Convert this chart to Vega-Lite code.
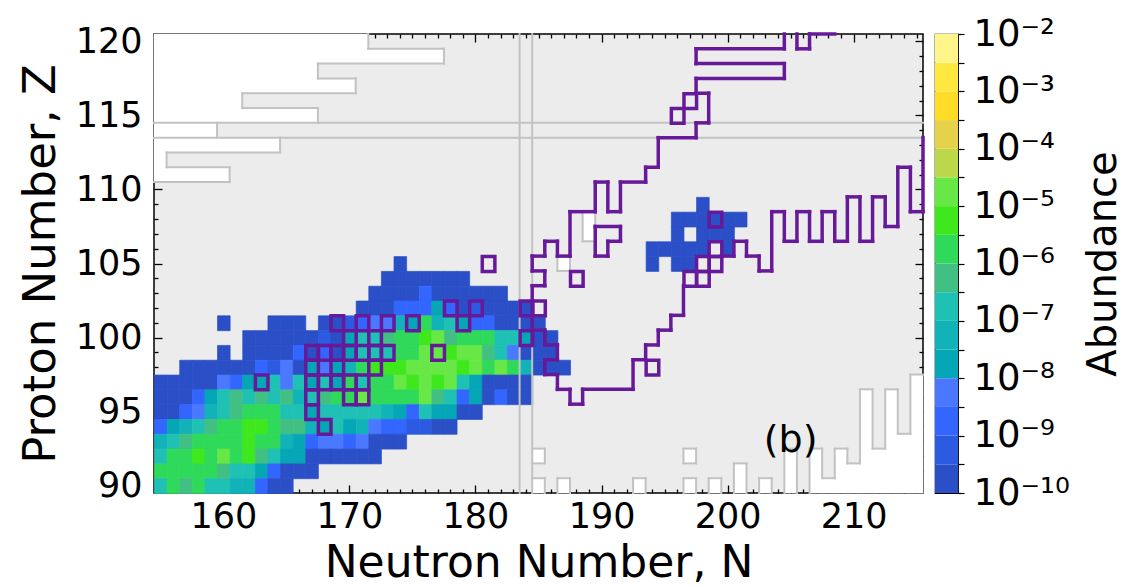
{
  "$schema": "https://vega.github.io/schema/vega-lite/v6.json",
  "background": "white",
  "padding": {"left": 17, "top": 14, "right": 4, "bottom": 0},
  "bounds": "flush",
  "spacing": 12,
  "config": {
    "font": "DejaVu Sans",
    "axis": {
      "grid": false, "domain": false, "labelFont": "DejaVu Sans", "titleFont": "DejaVu Sans",
      "labelColor": "black", "titleColor": "black", "tickColor": "black", "titleFontWeight": "normal",
      "labelFlush": false, "labelOverlap": false
    }
  },
  "datasets": {
    "cells": [
      {"N":174,"Z":105,"a":1.8e-10},
      {"N":173,"Z":104,"a":1.8e-10},{"N":174,"Z":104,"a":1.8e-10},{"N":175,"Z":104,"a":1.8e-10},{"N":176,"Z":104,"a":1.8e-10},{"N":177,"Z":104,"a":1.8e-10},{"N":178,"Z":104,"a":1.8e-10},{"N":179,"Z":104,"a":1.8e-10},
      {"N":172,"Z":103,"a":1.8e-10},{"N":173,"Z":103,"a":1.8e-10},{"N":174,"Z":103,"a":1.8e-10},{"N":175,"Z":103,"a":1.8e-10},{"N":176,"Z":103,"a":1.8e-9},{"N":177,"Z":103,"a":1.8e-10},{"N":178,"Z":103,"a":1.8e-10},{"N":179,"Z":103,"a":1.8e-10},{"N":180,"Z":103,"a":1.8e-10},{"N":181,"Z":103,"a":1.8e-10},{"N":182,"Z":103,"a":1.8e-10},
      {"N":171,"Z":102,"a":1.8e-10},{"N":172,"Z":102,"a":1.8e-10},{"N":173,"Z":102,"a":1.8e-10},{"N":174,"Z":102,"a":1.8e-9},{"N":175,"Z":102,"a":1.8e-9},{"N":176,"Z":102,"a":1.8e-9},{"N":177,"Z":102,"a":1.8e-8},{"N":178,"Z":102,"a":1.8e-9},{"N":179,"Z":102,"a":1.8e-10},{"N":180,"Z":102,"a":5.6e-10},{"N":181,"Z":102,"a":1.8e-10},{"N":182,"Z":102,"a":1.8e-10},{"N":183,"Z":102,"a":1.8e-10},{"N":184,"Z":102,"a":1.8e-10},
      {"N":160,"Z":101,"a":1.8e-10},{"N":164,"Z":101,"a":1.8e-10},{"N":165,"Z":101,"a":1.8e-10},{"N":166,"Z":101,"a":1.8e-10},{"N":168,"Z":101,"a":1.8e-10},{"N":169,"Z":101,"a":1.8e-10},{"N":170,"Z":101,"a":5.6e-10},{"N":171,"Z":101,"a":1.8e-9},{"N":172,"Z":101,"a":5.6e-9},{"N":173,"Z":101,"a":5.6e-9},{"N":174,"Z":101,"a":5.6e-8},{"N":175,"Z":101,"a":1.8e-8},{"N":176,"Z":101,"a":1.8e-6},{"N":177,"Z":101,"a":5.6e-8},{"N":178,"Z":101,"a":1.8e-7},{"N":179,"Z":101,"a":1.8e-8},{"N":180,"Z":101,"a":1.8e-9},{"N":181,"Z":101,"a":1.8e-9},{"N":182,"Z":101,"a":1.8e-10},{"N":183,"Z":101,"a":1.8e-10},{"N":184,"Z":101,"a":1.8e-10},{"N":185,"Z":101,"a":1.8e-10},
      {"N":162,"Z":100,"a":1.8e-10},{"N":163,"Z":100,"a":1.8e-10},{"N":164,"Z":100,"a":1.8e-10},{"N":165,"Z":100,"a":1.8e-10},{"N":166,"Z":100,"a":1.8e-10},{"N":167,"Z":100,"a":1.8e-10},{"N":168,"Z":100,"a":5.6e-10},{"N":169,"Z":100,"a":1.8e-10},{"N":170,"Z":100,"a":1.8e-8},{"N":171,"Z":100,"a":1.8e-7},{"N":172,"Z":100,"a":1.8e-7},{"N":173,"Z":100,"a":5.6e-7},{"N":174,"Z":100,"a":1.8e-6},{"N":175,"Z":100,"a":1.8e-6},{"N":176,"Z":100,"a":5.6e-6},{"N":177,"Z":100,"a":1.8e-5},{"N":178,"Z":100,"a":5.6e-7},{"N":179,"Z":100,"a":1.8e-6},{"N":180,"Z":100,"a":1.8e-6},{"N":181,"Z":100,"a":1.8e-6},{"N":182,"Z":100,"a":1.8e-7},{"N":183,"Z":100,"a":1.8e-7},{"N":184,"Z":100,"a":1.8e-8},{"N":185,"Z":100,"a":1.8e-10},{"N":186,"Z":100,"a":1.8e-10},
      {"N":160,"Z":99,"a":1.8e-10},{"N":162,"Z":99,"a":1.8e-10},{"N":163,"Z":99,"a":1.8e-10},{"N":164,"Z":99,"a":1.8e-10},{"N":165,"Z":99,"a":1.8e-10},{"N":166,"Z":99,"a":1.8e-9},{"N":167,"Z":99,"a":1.8e-10},{"N":168,"Z":99,"a":1.8e-9},{"N":169,"Z":99,"a":1.8e-10},{"N":170,"Z":99,"a":1.8e-8},{"N":171,"Z":99,"a":1.8e-7},{"N":172,"Z":99,"a":1.8e-7},{"N":173,"Z":99,"a":1.8e-7},{"N":174,"Z":99,"a":1.8e-6},{"N":175,"Z":99,"a":1.8e-6},{"N":176,"Z":99,"a":1.8e-5},{"N":177,"Z":99,"a":1.8e-5},{"N":178,"Z":99,"a":5.6e-6},{"N":179,"Z":99,"a":1.8e-5},{"N":180,"Z":99,"a":1.8e-5},{"N":181,"Z":99,"a":5.6e-7},{"N":182,"Z":99,"a":1.8e-7},{"N":183,"Z":99,"a":5.6e-9},{"N":184,"Z":99,"a":1.8e-10},{"N":185,"Z":99,"a":1.8e-10},{"N":186,"Z":99,"a":1.8e-10},
      {"N":157,"Z":98,"a":1.8e-10},{"N":158,"Z":98,"a":1.8e-10},{"N":159,"Z":98,"a":1.8e-10},{"N":160,"Z":98,"a":1.8e-10},{"N":161,"Z":98,"a":1.8e-10},{"N":162,"Z":98,"a":1.8e-10},{"N":163,"Z":98,"a":1.8e-9},{"N":164,"Z":98,"a":5.6e-10},{"N":165,"Z":98,"a":5.6e-9},{"N":166,"Z":98,"a":1.8e-10},{"N":167,"Z":98,"a":1.8e-8},{"N":168,"Z":98,"a":5.6e-9},{"N":169,"Z":98,"a":1.8e-8},{"N":170,"Z":98,"a":5.6e-8},{"N":171,"Z":98,"a":1.8e-6},{"N":172,"Z":98,"a":5.6e-6},{"N":173,"Z":98,"a":5.6e-6},{"N":174,"Z":98,"a":5.6e-6},{"N":175,"Z":98,"a":1.8e-5},{"N":176,"Z":98,"a":1.8e-5},{"N":177,"Z":98,"a":1.8e-5},{"N":178,"Z":98,"a":1.8e-5},{"N":179,"Z":98,"a":5.6e-6},{"N":180,"Z":98,"a":1.8e-5},{"N":181,"Z":98,"a":1.8e-6},{"N":182,"Z":98,"a":1.8e-5},{"N":183,"Z":98,"a":1.8e-6},{"N":184,"Z":98,"a":5.6e-8},{"N":185,"Z":98,"a":1.8e-10},{"N":186,"Z":98,"a":1.8e-10},{"N":187,"Z":98,"a":1.8e-10},
      {"N":155,"Z":97,"a":1.8e-10},{"N":156,"Z":97,"a":1.8e-10},{"N":157,"Z":97,"a":1.8e-10},{"N":158,"Z":97,"a":1.8e-10},{"N":159,"Z":97,"a":1.8e-10},{"N":160,"Z":97,"a":5.6e-9},{"N":161,"Z":97,"a":1.8e-9},{"N":162,"Z":97,"a":1.8e-8},{"N":163,"Z":97,"a":1.8e-8},{"N":164,"Z":97,"a":1.8e-7},{"N":165,"Z":97,"a":5.6e-9},{"N":166,"Z":97,"a":1.8e-7},{"N":167,"Z":97,"a":1.8e-8},{"N":168,"Z":97,"a":1.8e-7},{"N":169,"Z":97,"a":1.8e-8},{"N":170,"Z":97,"a":1.8e-6},{"N":171,"Z":97,"a":1.8e-7},{"N":172,"Z":97,"a":1.8e-6},{"N":173,"Z":97,"a":1.8e-6},{"N":174,"Z":97,"a":1.8e-5},{"N":175,"Z":97,"a":5.6e-6},{"N":176,"Z":97,"a":1.8e-5},{"N":177,"Z":97,"a":5.6e-6},{"N":178,"Z":97,"a":1.8e-5},{"N":179,"Z":97,"a":1.8e-7},{"N":180,"Z":97,"a":1.8e-8},{"N":181,"Z":97,"a":1.8e-10},{"N":182,"Z":97,"a":1.8e-10},{"N":183,"Z":97,"a":1.8e-10},{"N":184,"Z":97,"a":1.8e-10},
      {"N":155,"Z":96,"a":1.8e-10},{"N":156,"Z":96,"a":1.8e-10},{"N":157,"Z":96,"a":1.8e-10},{"N":158,"Z":96,"a":1.8e-9},{"N":159,"Z":96,"a":1.8e-8},{"N":160,"Z":96,"a":1.8e-7},{"N":161,"Z":96,"a":5.6e-7},{"N":162,"Z":96,"a":1.8e-7},{"N":163,"Z":96,"a":5.6e-7},{"N":164,"Z":96,"a":1.8e-7},{"N":165,"Z":96,"a":5.6e-7},{"N":166,"Z":96,"a":5.6e-8},{"N":167,"Z":96,"a":1.8e-7},{"N":168,"Z":96,"a":5.6e-7},{"N":169,"Z":96,"a":1.8e-6},{"N":170,"Z":96,"a":1.8e-6},{"N":171,"Z":96,"a":1.8e-5},{"N":172,"Z":96,"a":1.8e-6},{"N":173,"Z":96,"a":1.8e-6},{"N":174,"Z":96,"a":1.8e-6},{"N":175,"Z":96,"a":1.8e-6},{"N":176,"Z":96,"a":1.8e-5},{"N":177,"Z":96,"a":5.6e-7},{"N":178,"Z":96,"a":1.8e-7},{"N":179,"Z":96,"a":1.8e-9},{"N":180,"Z":96,"a":1.8e-8},{"N":181,"Z":96,"a":1.8e-10},{"N":182,"Z":96,"a":1.8e-9},{"N":183,"Z":96,"a":1.8e-10},{"N":184,"Z":96,"a":1.8e-10},
      {"N":155,"Z":95,"a":1.8e-10},{"N":156,"Z":95,"a":1.8e-10},{"N":157,"Z":95,"a":1.8e-9},{"N":158,"Z":95,"a":5.6e-9},{"N":159,"Z":95,"a":5.6e-8},{"N":160,"Z":95,"a":1.8e-7},{"N":161,"Z":95,"a":5.6e-7},{"N":162,"Z":95,"a":1.8e-6},{"N":163,"Z":95,"a":1.8e-6},{"N":164,"Z":95,"a":1.8e-6},{"N":165,"Z":95,"a":1.8e-7},{"N":166,"Z":95,"a":1.8e-7},{"N":167,"Z":95,"a":1.8e-8},{"N":168,"Z":95,"a":1.8e-7},{"N":169,"Z":95,"a":1.8e-7},{"N":170,"Z":95,"a":1.8e-7},{"N":171,"Z":95,"a":1.8e-7},{"N":172,"Z":95,"a":1.8e-7},{"N":173,"Z":95,"a":5.6e-8},{"N":174,"Z":95,"a":1.8e-8},{"N":175,"Z":95,"a":1.8e-9},{"N":176,"Z":95,"a":1.8e-7},{"N":177,"Z":95,"a":1.8e-8},{"N":178,"Z":95,"a":1.8e-8},{"N":179,"Z":95,"a":1.8e-10},{"N":180,"Z":95,"a":1.8e-10},
      {"N":155,"Z":94,"a":1.8e-9},{"N":156,"Z":94,"a":1.8e-8},{"N":157,"Z":94,"a":5.6e-8},{"N":158,"Z":94,"a":1.8e-7},{"N":159,"Z":94,"a":5.6e-7},{"N":160,"Z":94,"a":1.8e-6},{"N":161,"Z":94,"a":1.8e-6},{"N":162,"Z":94,"a":5.6e-6},{"N":163,"Z":94,"a":5.6e-6},{"N":164,"Z":94,"a":1.8e-6},{"N":165,"Z":94,"a":5.6e-7},{"N":166,"Z":94,"a":5.6e-7},{"N":167,"Z":94,"a":5.6e-8},{"N":168,"Z":94,"a":1.8e-8},{"N":169,"Z":94,"a":1.8e-7},{"N":170,"Z":94,"a":1.8e-8},{"N":171,"Z":94,"a":5.6e-8},{"N":172,"Z":94,"a":5.6e-9},{"N":173,"Z":94,"a":1.8e-9},{"N":174,"Z":94,"a":1.8e-9},{"N":175,"Z":94,"a":5.6e-10},{"N":176,"Z":94,"a":5.6e-10},{"N":177,"Z":94,"a":1.8e-10},{"N":178,"Z":94,"a":1.8e-10},
      {"N":155,"Z":93,"a":5.6e-8},{"N":156,"Z":93,"a":1.8e-7},{"N":157,"Z":93,"a":5.6e-7},{"N":158,"Z":93,"a":1.8e-6},{"N":159,"Z":93,"a":1.8e-6},{"N":160,"Z":93,"a":1.8e-6},{"N":161,"Z":93,"a":1.8e-6},{"N":162,"Z":93,"a":5.6e-6},{"N":163,"Z":93,"a":1.8e-6},{"N":164,"Z":93,"a":1.8e-6},{"N":165,"Z":93,"a":5.6e-8},{"N":166,"Z":93,"a":1.8e-8},{"N":167,"Z":93,"a":1.8e-9},{"N":168,"Z":93,"a":5.6e-9},{"N":169,"Z":93,"a":5.6e-9},{"N":170,"Z":93,"a":1.8e-9},{"N":171,"Z":93,"a":5.6e-9},{"N":172,"Z":93,"a":1.8e-10},{"N":173,"Z":93,"a":1.8e-10},{"N":174,"Z":93,"a":1.8e-10},
      {"N":155,"Z":92,"a":1.8e-7},{"N":156,"Z":92,"a":1.8e-6},{"N":157,"Z":92,"a":1.8e-6},{"N":158,"Z":92,"a":5.6e-6},{"N":159,"Z":92,"a":1.8e-6},{"N":160,"Z":92,"a":1.8e-5},{"N":161,"Z":92,"a":1.8e-6},{"N":162,"Z":92,"a":5.6e-6},{"N":163,"Z":92,"a":5.6e-7},{"N":164,"Z":92,"a":1.8e-7},{"N":165,"Z":92,"a":1.8e-8},{"N":166,"Z":92,"a":1.8e-8},{"N":167,"Z":92,"a":1.8e-10},{"N":168,"Z":92,"a":1.8e-10},{"N":169,"Z":92,"a":1.8e-10},{"N":170,"Z":92,"a":1.8e-10},{"N":171,"Z":92,"a":1.8e-10},{"N":172,"Z":92,"a":1.8e-10},
      {"N":155,"Z":91,"a":1.8e-6},{"N":156,"Z":91,"a":1.8e-6},{"N":157,"Z":91,"a":1.8e-6},{"N":158,"Z":91,"a":1.8e-6},{"N":159,"Z":91,"a":1.8e-6},{"N":160,"Z":91,"a":5.6e-7},{"N":161,"Z":91,"a":1.8e-7},{"N":162,"Z":91,"a":1.8e-7},{"N":163,"Z":91,"a":1.8e-8},{"N":164,"Z":91,"a":1.8e-9},{"N":165,"Z":91,"a":1.8e-10},{"N":166,"Z":91,"a":1.8e-10},{"N":167,"Z":91,"a":1.8e-10},
      {"N":155,"Z":90,"a":1.8e-7},{"N":156,"Z":90,"a":1.8e-6},{"N":157,"Z":90,"a":5.6e-7},{"N":158,"Z":90,"a":1.8e-6},{"N":159,"Z":90,"a":1.8e-7},{"N":160,"Z":90,"a":1.8e-7},{"N":161,"Z":90,"a":5.6e-8},{"N":162,"Z":90,"a":5.6e-8},{"N":163,"Z":90,"a":1.8e-9},{"N":164,"Z":90,"a":1.8e-10},{"N":165,"Z":90,"a":1.8e-10},
      {"N":198,"Z":109,"a":1.8e-10},
      {"N":196,"Z":108,"a":1.8e-10},{"N":197,"Z":108,"a":1.8e-10},{"N":198,"Z":108,"a":1.8e-10},{"N":199,"Z":108,"a":1.8e-10},{"N":200,"Z":108,"a":1.8e-10},{"N":201,"Z":108,"a":1.8e-10},
      {"N":196,"Z":107,"a":1.8e-10},{"N":198,"Z":107,"a":1.8e-10},{"N":199,"Z":107,"a":1.8e-10},{"N":200,"Z":107,"a":1.8e-10},
      {"N":194,"Z":106,"a":1.8e-10},{"N":195,"Z":106,"a":1.8e-10},{"N":196,"Z":106,"a":1.8e-10},{"N":197,"Z":106,"a":1.8e-10},{"N":198,"Z":106,"a":1.8e-10},{"N":200,"Z":106,"a":1.8e-10},
      {"N":194,"Z":105,"a":1.8e-10},{"N":196,"Z":105,"a":1.8e-10},{"N":197,"Z":105,"a":1.8e-10}
    ],
    "blank": [
      {"n0":154.5,"n1":171.5,"z0":119.5,"z1":120.5},{"n0":154.5,"n1":177.5,"z0":118.5,"z1":119.5},{"n0":154.5,"n1":167.5,"z0":117.5,"z1":118.5},
      {"n0":154.5,"n1":170.5,"z0":116.5,"z1":117.5},{"n0":154.5,"n1":161.5,"z0":115.5,"z1":116.5},{"n0":154.5,"n1":167.5,"z0":114.5,"z1":115.5},
      {"n0":154.5,"n1":159.5,"z0":113.5,"z1":114.5},{"n0":154.5,"n1":164.5,"z0":112.5,"z1":113.5},{"n0":154.5,"n1":155.5,"z0":111.5,"z1":112.5},
      {"n0":154.5,"n1":160.5,"z0":110.5,"z1":111.5},
      {"n0":186.5,"n1":187.5,"z0":104.5,"z1":105.5},{"n0":188.5,"n1":189.5,"z0":106.5,"z1":108.5},
      {"n0":184.5,"n1":185.5,"z0":91.5,"z1":92.5},{"n0":184.5,"n1":185.5,"z0":89.5,"z1":90.5},{"n0":186.5,"n1":187.5,"z0":89.5,"z1":90.5},
      {"n0":192.5,"n1":193.5,"z0":89.5,"z1":90.5},{"n0":196.5,"n1":197.5,"z0":91.5,"z1":92.5},{"n0":196.5,"n1":197.5,"z0":89.5,"z1":90.5},
      {"n0":198.5,"n1":199.5,"z0":89.5,"z1":90.5},{"n0":200.5,"n1":201.5,"z0":89.5,"z1":91.5},{"n0":202.5,"n1":203.5,"z0":89.5,"z1":90.5},
      {"n0":204.5,"n1":205.5,"z0":89.5,"z1":92.5},{"n0":206.5,"n1":207.5,"z0":89.5,"z1":92.5},{"n0":207.5,"n1":208.5,"z0":89.5,"z1":90.5},
      {"n0":208.5,"n1":209.5,"z0":89.5,"z1":92.5},{"n0":209.5,"n1":210.5,"z0":89.5,"z1":91.5},{"n0":210.5,"n1":211.5,"z0":89.5,"z1":96.5},
      {"n0":211.5,"n1":212.5,"z0":89.5,"z1":92.5},{"n0":212.5,"n1":213.5,"z0":89.5,"z1":96.5},{"n0":213.5,"n1":214.5,"z0":89.5,"z1":93.5},
      {"n0":214.5,"n1":215.5,"z0":89.5,"z1":97.5}
    ],
    "grey": [
      {"n0":183.5,"n1":183.5,"z0":89.5,"z1":120.5},{"n0":184.5,"n1":184.5,"z0":89.5,"z1":120.5},
      {"n0":154.5,"n1":215.5,"z0":113.5,"z1":113.5},{"n0":154.5,"n1":215.5,"z0":114.5,"z1":114.5},
      {"n0":171.5,"n1":171.5,"z0":119.5,"z1":120.5},{"n0":171.5,"n1":177.5,"z0":119.5,"z1":119.5},{"n0":177.5,"n1":177.5,"z0":118.5,"z1":119.5},
      {"n0":167.5,"n1":177.5,"z0":118.5,"z1":118.5},{"n0":167.5,"n1":167.5,"z0":117.5,"z1":118.5},{"n0":167.5,"n1":170.5,"z0":117.5,"z1":117.5},
      {"n0":170.5,"n1":170.5,"z0":116.5,"z1":117.5},{"n0":161.5,"n1":170.5,"z0":116.5,"z1":116.5},{"n0":161.5,"n1":161.5,"z0":115.5,"z1":116.5},
      {"n0":161.5,"n1":167.5,"z0":115.5,"z1":115.5},{"n0":167.5,"n1":167.5,"z0":114.5,"z1":115.5},{"n0":159.5,"n1":159.5,"z0":113.5,"z1":114.5},
      {"n0":164.5,"n1":164.5,"z0":112.5,"z1":113.5},{"n0":155.5,"n1":164.5,"z0":112.5,"z1":112.5},{"n0":155.5,"n1":155.5,"z0":111.5,"z1":112.5},
      {"n0":155.5,"n1":160.5,"z0":111.5,"z1":111.5},{"n0":160.5,"n1":160.5,"z0":110.5,"z1":111.5},{"n0":154.5,"n1":160.5,"z0":110.5,"z1":110.5},
      {"n0":186.5,"n1":187.5,"z0":104.5,"z1":104.5},{"n0":186.5,"n1":187.5,"z0":105.5,"z1":105.5},{"n0":186.5,"n1":186.5,"z0":104.5,"z1":105.5},{"n0":187.5,"n1":187.5,"z0":104.5,"z1":105.5},
      {"n0":188.5,"n1":188.5,"z0":106.5,"z1":108.5},{"n0":189.5,"n1":189.5,"z0":106.5,"z1":108.5},{"n0":188.5,"n1":189.5,"z0":106.5,"z1":106.5},{"n0":188.5,"n1":189.5,"z0":108.5,"z1":108.5},
      {"n0":184.5,"n1":185.5,"z0":92.5,"z1":92.5},{"n0":184.5,"n1":185.5,"z0":91.5,"z1":91.5},{"n0":185.5,"n1":185.5,"z0":91.5,"z1":92.5},
      {"n0":184.5,"n1":185.5,"z0":90.5,"z1":90.5},{"n0":185.5,"n1":185.5,"z0":89.5,"z1":90.5},
      {"n0":186.5,"n1":187.5,"z0":90.5,"z1":90.5},{"n0":186.5,"n1":186.5,"z0":89.5,"z1":90.5},{"n0":187.5,"n1":187.5,"z0":89.5,"z1":90.5},
      {"n0":192.5,"n1":193.5,"z0":90.5,"z1":90.5},{"n0":192.5,"n1":192.5,"z0":89.5,"z1":90.5},{"n0":193.5,"n1":193.5,"z0":89.5,"z1":90.5},
      {"n0":196.5,"n1":197.5,"z0":92.5,"z1":92.5},{"n0":196.5,"n1":197.5,"z0":91.5,"z1":91.5},{"n0":196.5,"n1":196.5,"z0":91.5,"z1":92.5},{"n0":197.5,"n1":197.5,"z0":91.5,"z1":92.5},
      {"n0":196.5,"n1":197.5,"z0":90.5,"z1":90.5},{"n0":196.5,"n1":196.5,"z0":89.5,"z1":90.5},{"n0":197.5,"n1":197.5,"z0":89.5,"z1":90.5},
      {"n0":198.5,"n1":199.5,"z0":90.5,"z1":90.5},{"n0":198.5,"n1":198.5,"z0":89.5,"z1":90.5},{"n0":199.5,"n1":199.5,"z0":89.5,"z1":90.5},
      {"n0":200.5,"n1":201.5,"z0":91.5,"z1":91.5},{"n0":200.5,"n1":200.5,"z0":89.5,"z1":91.5},{"n0":201.5,"n1":201.5,"z0":89.5,"z1":91.5},
      {"n0":202.5,"n1":203.5,"z0":90.5,"z1":90.5},{"n0":202.5,"n1":202.5,"z0":89.5,"z1":90.5},{"n0":203.5,"n1":203.5,"z0":89.5,"z1":90.5},
      {"n0":204.5,"n1":205.5,"z0":92.5,"z1":92.5},{"n0":204.5,"n1":204.5,"z0":89.5,"z1":92.5},{"n0":205.5,"n1":205.5,"z0":89.5,"z1":92.5},
      {"n0":206.5,"n1":206.5,"z0":89.5,"z1":92.5},{"n0":206.5,"n1":207.5,"z0":92.5,"z1":92.5},{"n0":207.5,"n1":207.5,"z0":90.5,"z1":92.5},
      {"n0":207.5,"n1":208.5,"z0":90.5,"z1":90.5},{"n0":208.5,"n1":208.5,"z0":90.5,"z1":92.5},{"n0":208.5,"n1":209.5,"z0":92.5,"z1":92.5},
      {"n0":209.5,"n1":209.5,"z0":91.5,"z1":92.5},{"n0":209.5,"n1":210.5,"z0":91.5,"z1":91.5},{"n0":210.5,"n1":210.5,"z0":91.5,"z1":96.5},
      {"n0":210.5,"n1":211.5,"z0":96.5,"z1":96.5},{"n0":211.5,"n1":211.5,"z0":92.5,"z1":96.5},{"n0":211.5,"n1":212.5,"z0":92.5,"z1":92.5},
      {"n0":212.5,"n1":212.5,"z0":92.5,"z1":96.5},{"n0":212.5,"n1":213.5,"z0":96.5,"z1":96.5},{"n0":213.5,"n1":213.5,"z0":93.5,"z1":96.5},
      {"n0":213.5,"n1":214.5,"z0":93.5,"z1":93.5},{"n0":214.5,"n1":214.5,"z0":93.5,"z1":97.5},{"n0":214.5,"n1":215.5,"z0":97.5,"z1":97.5}
    ],
    "pbox": [
      {"N":169,"Z":101},{"N":171,"Z":101},{"N":173,"Z":101},{"N":175,"Z":101},{"N":179,"Z":101},
      {"N":170,"Z":100},{"N":172,"Z":100},
      {"N":167,"Z":99},{"N":168,"Z":99},{"N":169,"Z":99},{"N":170,"Z":99},{"N":171,"Z":99},{"N":172,"Z":99},{"N":173,"Z":99},{"N":177,"Z":99},
      {"N":167,"Z":98},{"N":169,"Z":98},{"N":172,"Z":98},
      {"N":163,"Z":97},{"N":167,"Z":97},{"N":168,"Z":97},{"N":169,"Z":97},{"N":170,"Z":97},{"N":171,"Z":97},
      {"N":167,"Z":96},{"N":170,"Z":96},{"N":171,"Z":96},
      {"N":167,"Z":95},{"N":168,"Z":94},
      {"N":178,"Z":102},{"N":180,"Z":102},{"N":181,"Z":105},{"N":184,"Z":102},{"N":185,"Z":102},{"N":184,"Z":100},
      {"N":188,"Z":104},{"N":194,"Z":98},
      {"N":197,"Z":104},{"N":198,"Z":104},{"N":198,"Z":105},{"N":199,"Z":105},{"N":199,"Z":106},{"N":199,"Z":108},
      {"N":196,"Z":115},{"N":197,"Z":116}
    ],
    "purple": [
      {"n0":206.5,"n1":208.5,"z0":120.5,"z1":120.5},{"n0":206.5,"n1":206.5,"z0":119.5,"z1":120.5},{"n0":205.5,"n1":206.5,"z0":119.5,"z1":119.5},
      {"n0":205.5,"n1":205.5,"z0":119.5,"z1":120.5},{"n0":204.5,"n1":204.5,"z0":119.5,"z1":120.5},{"n0":197.5,"n1":204.5,"z0":119.5,"z1":119.5},
      {"n0":197.5,"n1":197.5,"z0":118.5,"z1":119.5},{"n0":197.5,"n1":204.5,"z0":118.5,"z1":118.5},{"n0":204.5,"n1":204.5,"z0":117.5,"z1":118.5},
      {"n0":197.5,"n1":204.5,"z0":117.5,"z1":117.5},{"n0":197.5,"n1":197.5,"z0":116.5,"z1":117.5},{"n0":197.5,"n1":198.5,"z0":116.5,"z1":116.5},
      {"n0":198.5,"n1":198.5,"z0":114.5,"z1":116.5},{"n0":197.5,"n1":198.5,"z0":114.5,"z1":114.5},{"n0":197.5,"n1":197.5,"z0":113.5,"z1":114.5},
      {"n0":194.5,"n1":197.5,"z0":113.5,"z1":113.5},{"n0":194.5,"n1":194.5,"z0":111.5,"z1":113.5},{"n0":193.5,"n1":194.5,"z0":111.5,"z1":111.5},
      {"n0":193.5,"n1":193.5,"z0":110.5,"z1":111.5},{"n0":191.5,"n1":193.5,"z0":110.5,"z1":110.5},{"n0":191.5,"n1":191.5,"z0":108.5,"z1":110.5},
      {"n0":190.5,"n1":191.5,"z0":108.5,"z1":108.5},{"n0":190.5,"n1":190.5,"z0":108.5,"z1":110.5},{"n0":189.5,"n1":190.5,"z0":110.5,"z1":110.5},
      {"n0":189.5,"n1":189.5,"z0":108.5,"z1":110.5},{"n0":187.5,"n1":189.5,"z0":108.5,"z1":108.5},{"n0":187.5,"n1":187.5,"z0":105.5,"z1":108.5},
      {"n0":186.5,"n1":187.5,"z0":105.5,"z1":105.5},{"n0":186.5,"n1":186.5,"z0":105.5,"z1":106.5},{"n0":185.5,"n1":186.5,"z0":106.5,"z1":106.5},
      {"n0":185.5,"n1":185.5,"z0":105.5,"z1":106.5},{"n0":184.5,"n1":185.5,"z0":105.5,"z1":105.5},{"n0":184.5,"n1":184.5,"z0":104.5,"z1":105.5},
      {"n0":184.5,"n1":185.5,"z0":104.5,"z1":104.5},{"n0":185.5,"n1":185.5,"z0":103.5,"z1":104.5},{"n0":184.5,"n1":185.5,"z0":103.5,"z1":103.5},
      {"n0":184.5,"n1":184.5,"z0":99.5,"z1":103.5},
      {"n0":189.5,"n1":189.5,"z0":105.5,"z1":107.5},{"n0":189.5,"n1":191.5,"z0":107.5,"z1":107.5},{"n0":191.5,"n1":191.5,"z0":106.5,"z1":107.5},
      {"n0":190.5,"n1":191.5,"z0":106.5,"z1":106.5},{"n0":190.5,"n1":190.5,"z0":105.5,"z1":106.5},{"n0":189.5,"n1":190.5,"z0":105.5,"z1":105.5},
      {"n0":184.5,"n1":185.5,"z0":100.5,"z1":100.5},{"n0":185.5,"n1":185.5,"z0":99.5,"z1":100.5},{"n0":185.5,"n1":186.5,"z0":99.5,"z1":99.5},
      {"n0":186.5,"n1":186.5,"z0":98.5,"z1":99.5},{"n0":185.5,"n1":186.5,"z0":98.5,"z1":98.5},{"n0":185.5,"n1":185.5,"z0":97.5,"z1":98.5},
      {"n0":185.5,"n1":186.5,"z0":97.5,"z1":97.5},{"n0":186.5,"n1":186.5,"z0":96.5,"z1":97.5},{"n0":186.5,"n1":187.5,"z0":96.5,"z1":96.5},
      {"n0":187.5,"n1":187.5,"z0":95.5,"z1":96.5},{"n0":187.5,"n1":188.5,"z0":95.5,"z1":95.5},{"n0":188.5,"n1":188.5,"z0":95.5,"z1":96.5},
      {"n0":188.5,"n1":192.5,"z0":96.5,"z1":96.5},{"n0":192.5,"n1":192.5,"z0":96.5,"z1":98.5},{"n0":192.5,"n1":193.5,"z0":98.5,"z1":98.5},
      {"n0":193.5,"n1":193.5,"z0":98.5,"z1":99.5},{"n0":193.5,"n1":194.5,"z0":99.5,"z1":99.5},{"n0":194.5,"n1":194.5,"z0":99.5,"z1":100.5},
      {"n0":194.5,"n1":195.5,"z0":100.5,"z1":100.5},{"n0":195.5,"n1":195.5,"z0":100.5,"z1":101.5},{"n0":195.5,"n1":196.5,"z0":101.5,"z1":101.5},
      {"n0":196.5,"n1":196.5,"z0":101.5,"z1":103.5},
      {"n0":199.5,"n1":200.5,"z0":105.5,"z1":105.5},{"n0":200.5,"n1":200.5,"z0":105.5,"z1":106.5},{"n0":200.5,"n1":201.5,"z0":106.5,"z1":106.5},
      {"n0":201.5,"n1":201.5,"z0":105.5,"z1":106.5},{"n0":201.5,"n1":202.5,"z0":105.5,"z1":105.5},{"n0":202.5,"n1":202.5,"z0":104.5,"z1":105.5},
      {"n0":202.5,"n1":203.5,"z0":104.5,"z1":104.5},{"n0":203.5,"n1":203.5,"z0":104.5,"z1":108.5},{"n0":203.5,"n1":204.5,"z0":108.5,"z1":108.5},
      {"n0":204.5,"n1":204.5,"z0":106.5,"z1":108.5},{"n0":204.5,"n1":205.5,"z0":106.5,"z1":106.5},{"n0":205.5,"n1":205.5,"z0":106.5,"z1":108.5},
      {"n0":205.5,"n1":206.5,"z0":108.5,"z1":108.5},{"n0":206.5,"n1":206.5,"z0":106.5,"z1":108.5},{"n0":206.5,"n1":207.5,"z0":106.5,"z1":106.5},
      {"n0":207.5,"n1":207.5,"z0":106.5,"z1":108.5},{"n0":207.5,"n1":208.5,"z0":108.5,"z1":108.5},{"n0":208.5,"n1":208.5,"z0":106.5,"z1":108.5},
      {"n0":208.5,"n1":209.5,"z0":106.5,"z1":106.5},{"n0":209.5,"n1":209.5,"z0":106.5,"z1":109.5},{"n0":209.5,"n1":210.5,"z0":109.5,"z1":109.5},
      {"n0":210.5,"n1":210.5,"z0":106.5,"z1":109.5},{"n0":210.5,"n1":211.5,"z0":106.5,"z1":106.5},{"n0":211.5,"n1":211.5,"z0":106.5,"z1":109.5},
      {"n0":211.5,"n1":212.5,"z0":109.5,"z1":109.5},{"n0":212.5,"n1":212.5,"z0":107.5,"z1":109.5},{"n0":212.5,"n1":213.5,"z0":107.5,"z1":107.5},
      {"n0":213.5,"n1":213.5,"z0":107.5,"z1":111.5},{"n0":213.5,"n1":214.5,"z0":111.5,"z1":111.5},{"n0":214.5,"n1":214.5,"z0":108.5,"z1":111.5},
      {"n0":214.5,"n1":215.5,"z0":108.5,"z1":108.5},{"n0":215.5,"n1":215.5,"z0":108.5,"z1":113.5}
    ],
    "bands": [
      {"lo":1e-10,"hi":3.1622776601683795e-10},{"lo":3.1622776601683795e-10,"hi":1e-9},
      {"lo":1e-9,"hi":3.1622776601683795e-9},{"lo":3.1622776601683795e-9,"hi":1e-8},
      {"lo":1e-8,"hi":3.1622776601683795e-8},{"lo":3.1622776601683795e-8,"hi":1e-7},
      {"lo":1e-7,"hi":3.1622776601683795e-7},{"lo":3.1622776601683795e-7,"hi":1e-6},
      {"lo":1e-6,"hi":3.1622776601683795e-6},{"lo":3.1622776601683795e-6,"hi":1e-5},
      {"lo":1e-5,"hi":3.1622776601683795e-5},{"lo":3.1622776601683795e-5,"hi":1e-4},
      {"lo":1e-4,"hi":3.1622776601683795e-4},{"lo":3.1622776601683795e-4,"hi":1e-3},
      {"lo":1e-3,"hi":3.1622776601683795e-3},{"lo":3.1622776601683795e-3,"hi":1e-2}
    ]
  },
  "hconcat": [
    {
      "width": 769,
      "height": 459,
      "view": {"fill": "#ececec", "stroke": "black", "strokeWidth": 1.5},
      "resolve": {"axis": {"x": "independent", "y": "independent"}},
      "layer": [
        {
          "data": {"name": "blank"},
          "mark": {"type": "rect", "fill": "white", "stroke": "white", "strokeWidth": 0.6},
          "encoding": {
            "x": {"field": "n0", "type": "quantitative", "scale": {"domain": [154.5, 215.5], "nice": false, "zero": false},
              "axis": {"orient": "bottom", "values": [155,156,157,158,159,160,161,162,163,164,165,166,167,168,169,170,171,172,173,174,175,176,177,178,179,180,181,182,183,184,185,186,187,188,189,190,191,192,193,194,195,196,197,198,199,200,201,202,203,204,205,206,207,208,209,210,211,212,213,214,215],
                "labelExpr": "datum.value % 10 === 0 ? datum.label : ''",
                "tickSize": {"condition": {"test": "datum.value % 10 === 0", "value": -8}, "value": -4},
                "tickWidth": 1.3, "labelFontSize": 35, "labelPadding": 14,
                "title": "Neutron Number, N", "titleFontSize": 44, "titlePadding": 3}},
            "x2": {"field": "n1"},
            "y": {"field": "z0", "type": "quantitative", "scale": {"domain": [89.5, 120.5], "nice": false, "zero": false},
              "axis": {"orient": "left", "values": [90,91,92,93,94,95,96,97,98,99,100,101,102,103,104,105,106,107,108,109,110,111,112,113,114,115,116,117,118,119,120],
                "labelExpr": "datum.value % 5 === 0 ? datum.label : ''",
                "tickSize": {"condition": {"test": "datum.value % 5 === 0", "value": -8}, "value": -4},
                "tickWidth": 1.3, "labelFontSize": 35, "labelPadding": 20,
                "title": "Proton Number, Z", "titleFontSize": 45, "titlePadding": 12}},
            "y2": {"field": "z1"}
          }
        },
        {
          "data": {"name": "cells"},
          "mark": {"type": "rect", "binSpacing": 0, "strokeWidth": 0.7},
          "encoding": {
            "x": {"field": "N", "type": "quantitative", "bin": {"step": 1, "extent": [154.5, 216.5], "nice": false},
              "scale": {"domain": [154.5, 215.5], "nice": false, "zero": false}, "axis": null},
            "y": {"field": "Z", "type": "quantitative", "bin": {"step": 1, "extent": [89.5, 121.5], "nice": false},
              "scale": {"domain": [89.5, 120.5], "nice": false, "zero": false}, "axis": null},
            "color": {"field": "a", "type": "quantitative", "legend": null,
              "scale": {"type": "threshold",
                "domain": [3.1622776601683795e-10, 1e-9, 3.1622776601683795e-9, 1e-8, 3.1622776601683795e-8, 1e-7, 3.1622776601683795e-7, 1e-6, 3.1622776601683795e-6, 1e-5, 3.1622776601683795e-5, 1e-4, 3.1622776601683795e-4, 1e-3, 3.1622776601683795e-3],
                "range": ["#2a4fc6","#2c5ae0","#3366ff","#4a78ff","#05a6b5","#12b3b8","#1fc1b4","#42c084","#2fd95a","#3fe81c","#67e846","#bcd84a","#e6d24a","#ffdc26","#ffe840","#fff58a"]}},
            "stroke": {"field": "a", "type": "quantitative", "legend": null,
              "scale": {"type": "threshold",
                "domain": [3.1622776601683795e-10, 1e-9, 3.1622776601683795e-9, 1e-8, 3.1622776601683795e-8, 1e-7, 3.1622776601683795e-7, 1e-6, 3.1622776601683795e-6, 1e-5, 3.1622776601683795e-5, 1e-4, 3.1622776601683795e-4, 1e-3, 3.1622776601683795e-3],
                "range": ["#2a4fc6","#2c5ae0","#3366ff","#4a78ff","#05a6b5","#12b3b8","#1fc1b4","#42c084","#2fd95a","#3fe81c","#67e846","#bcd84a","#e6d24a","#ffdc26","#ffe840","#fff58a"]}}
          }
        },
        {
          "data": {"name": "grey"},
          "mark": {"type": "rule", "color": "#c2c2c2", "strokeWidth": 2, "strokeCap": "square"},
          "encoding": {
            "x": {"field": "n0", "type": "quantitative", "scale": {"domain": [154.5, 215.5], "nice": false, "zero": false},
              "axis": {"orient": "top", "values": [155,156,157,158,159,160,161,162,163,164,165,166,167,168,169,170,171,172,173,174,175,176,177,178,179,180,181,182,183,184,185,186,187,188,189,190,191,192,193,194,195,196,197,198,199,200,201,202,203,204,205,206,207,208,209,210,211,212,213,214,215],
                "labels": false, "title": null,
                "tickSize": {"condition": {"test": "datum.value % 10 === 0", "value": -8}, "value": -4}, "tickWidth": 1.3}},
            "x2": {"field": "n1"},
            "y": {"field": "z0", "type": "quantitative", "scale": {"domain": [89.5, 120.5], "nice": false, "zero": false},
              "axis": {"orient": "right", "values": [90,91,92,93,94,95,96,97,98,99,100,101,102,103,104,105,106,107,108,109,110,111,112,113,114,115,116,117,118,119,120],
                "labels": false, "title": null,
                "tickSize": {"condition": {"test": "datum.value % 5 === 0", "value": -8}, "value": -4}, "tickWidth": 1.3}},
            "y2": {"field": "z1"}
          }
        },
        {
          "data": {"name": "pbox"},
          "mark": {"type": "rect", "filled": false, "color": "#661a99", "strokeWidth": 3.5, "binSpacing": 0},
          "encoding": {
            "x": {"field": "N", "type": "quantitative", "bin": {"step": 1, "extent": [154.5, 216.5], "nice": false},
              "scale": {"domain": [154.5, 215.5], "nice": false, "zero": false}, "axis": null},
            "y": {"field": "Z", "type": "quantitative", "bin": {"step": 1, "extent": [89.5, 121.5], "nice": false},
              "scale": {"domain": [89.5, 120.5], "nice": false, "zero": false}, "axis": null}
          }
        },
        {
          "data": {"name": "purple"},
          "mark": {"type": "rule", "color": "#661a99", "strokeWidth": 3.5, "strokeCap": "square"},
          "encoding": {
            "x": {"field": "n0", "type": "quantitative", "scale": {"domain": [154.5, 215.5], "nice": false, "zero": false}, "axis": null},
            "x2": {"field": "n1"},
            "y": {"field": "z0", "type": "quantitative", "scale": {"domain": [89.5, 120.5], "nice": false, "zero": false}, "axis": null},
            "y2": {"field": "z1"}
          }
        },
        {
          "data": {"values": [{"t": "(b)", "N": 205, "Z": 92.3}]},
          "mark": {"type": "text", "fontSize": 38, "font": "DejaVu Sans", "align": "center", "baseline": "alphabetic", "color": "black"},
          "encoding": {
            "x": {"field": "N", "type": "quantitative", "scale": {"domain": [154.5, 215.5], "nice": false, "zero": false}, "axis": null},
            "y": {"field": "Z", "type": "quantitative", "scale": {"domain": [89.5, 120.5], "nice": false, "zero": false}, "axis": null},
            "text": {"field": "t"}
          }
        }
      ]
    },
    {
      "width": 23,
      "height": 459,
      "view": {"stroke": "black", "strokeWidth": 1.2},
      "data": {"name": "bands"},
      "mark": {"type": "rect"},
      "encoding": {
        "x": {"datum": 0, "type": "quantitative", "scale": {"domain": [0, 1]}, "axis": null},
        "x2": {"datum": 1},
        "y": {"field": "lo", "type": "quantitative",
          "scale": {"type": "log", "domain": [1e-10, 1e-2], "nice": false},
          "axis": {"orient": "right",
            "values": [1e-10, 3.1622776601683795e-10, 1e-9, 3.1622776601683795e-9, 1e-8, 3.1622776601683795e-8, 1e-7, 3.1622776601683795e-7, 1e-6, 3.1622776601683795e-6, 1e-5, 3.1622776601683795e-5, 1e-4, 3.1622776601683795e-4, 1e-3, 3.1622776601683795e-3, 1e-2],
            "labelExpr": "abs(log(datum.value) / LN10 - round(log(datum.value) / LN10)) > 0.1 ? '' : '10⁻' + ['⁰','¹','²','³','⁴','⁵','⁶','⁷','⁸','⁹','¹⁰'][-round(log(datum.value) / LN10)]",
            "tickSize": 6, "tickWidth": 1.2, "labelFontSize": 37, "labelPadding": 9,
            "title": "Abundance", "titleFontSize": 40, "titleAngle": 270, "titleBaseline": "top", "titlePadding": 14}},
        "y2": {"field": "hi"},
        "color": {"field": "lo", "type": "quantitative", "legend": null,
          "scale": {"type": "threshold",
            "domain": [3.1622776601683795e-10, 1e-9, 3.1622776601683795e-9, 1e-8, 3.1622776601683795e-8, 1e-7, 3.1622776601683795e-7, 1e-6, 3.1622776601683795e-6, 1e-5, 3.1622776601683795e-5, 1e-4, 3.1622776601683795e-4, 1e-3, 3.1622776601683795e-3],
            "range": ["#2a4fc6","#2c5ae0","#3366ff","#4a78ff","#05a6b5","#12b3b8","#1fc1b4","#42c084","#2fd95a","#3fe81c","#67e846","#bcd84a","#e6d24a","#ffdc26","#ffe840","#fff58a"]}}
      }
    }
  ]
}
